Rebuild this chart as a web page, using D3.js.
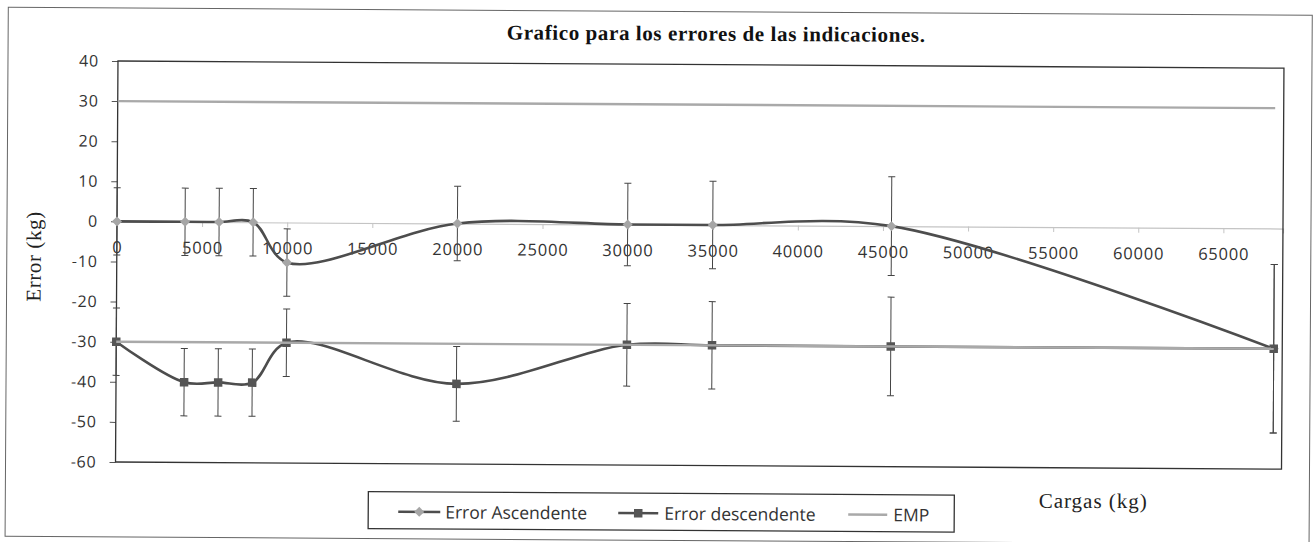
<!DOCTYPE html>
<html><head><meta charset="utf-8">
<script src="https://cdn.jsdelivr.net/npm/d3@7"></script>
<style>body{margin:0;background:#fff} svg{display:block}</style>
</head><body><svg id="c" width="1315" height="542"></svg>
<script>
// ---- data ----
const cargas = [0, 4000, 6000, 8000, 10000, 20000, 30000, 35000, 45500, 68000];
const errorAscendente = [0, 0, 0, 0, -10, 0, 0, 0, 0, -30];
const errorDescendente = [-30, -40, -40, -40, -30, -40, -30, -30, -30, -30];
const incertidumbre = [8.4, 8.4, 8.4, 8.4, 8.4, 9.3, 10.3, 10.9, 12.3, 21];
const empX = [0, 68000];
const empSup = [30, 30];
const empInf = [-30, -30];
const xTicks = [0, 5000, 10000, 15000, 20000, 25000, 30000, 35000, 40000, 45000, 50000, 55000, 60000, 65000];
const yTicks = [40, 30, 20, 10, 0, -10, -20, -30, -40, -50, -60];
const seriesNames = ["Error Ascendente", "Error descendente", "EMP"];
const titulo = "Grafico para los errores de las indicaciones.";

// ---- drawing ----
const svg = d3.select('#c');
const g = svg.append('g').attr('transform', 'rotate(0.35,117,221)');
const sans = "'Open Sans', sans-serif";
const serif = "'Liberation Serif', 'Times New Roman', serif";

g.append('rect').attr('x', 7).attr('y', 8).attr('width', 1304).attr('height', 529)
  .attr('fill', 'none').attr('stroke', '#666').attr('stroke-width', 1);

const x = d3.scaleLinear().domain([0, 68500]).range([117, 1283]);
const y = d3.scaleLinear().domain([-60, 40]).range([462, 61]);

// title
g.append('text').attr('x', 715).attr('y', 37).attr('text-anchor', 'middle')
  .attr('font-family', serif).attr('font-weight', 'bold').attr('font-size', 21)
  .attr('letter-spacing', 0.6).attr('fill', '#111').text(titulo);

// x axis at 0
const xAxis = d3.axisBottom(x).tickValues(xTicks).tickSize(5).tickPadding(15).tickFormat(d => String(d));
const gx = g.append('g').attr('transform', `translate(0,${y(0)})`).call(xAxis);
gx.select('.domain').attr('stroke', '#c4c4c4').attr('stroke-width', 1.2);
gx.selectAll('.tick line').attr('stroke', '#c4c4c4');
gx.selectAll('.tick text').attr('font-family', sans).attr('font-size', 16.5).attr('letter-spacing', 0.8).attr('fill', '#333');

// y axis
const yAxis = d3.axisLeft(y).tickValues(yTicks).tickSize(6).tickPadding(13).tickFormat(d => String(d));
const gy = g.append('g').attr('transform', `translate(${x(0)},0)`).call(yAxis);
gy.select('.domain').remove();
gy.selectAll('.tick line').attr('stroke', '#555');
gy.selectAll('.tick text').attr('font-family', sans).attr('font-size', 16).attr('letter-spacing', 0.8).attr('fill', '#333');

// plot border
g.append('rect').attr('x', x(0)).attr('y', y(40)).attr('width', x(68500) - x(0)).attr('height', y(-60) - y(40))
  .attr('fill', 'none').attr('stroke', '#333').attr('stroke-width', 1.3);

// axis titles
g.append('text').attr('transform', `translate(41,257) rotate(-90)`).attr('text-anchor', 'middle')
  .attr('font-family', serif).attr('font-size', 21).attr('letter-spacing', 0.6).attr('fill', '#222').text('Error (kg)');
g.append('text').attr('x', 1095).attr('y', 502).attr('text-anchor', 'middle')
  .attr('font-family', serif).attr('font-size', 21).attr('letter-spacing', 1).attr('fill', '#222').text('Cargas (kg)');

const line = d3.line().x((d, i) => x(cargas[i])).y(d => y(d)).curve(d3.curveCatmullRom.alpha(0.5));
const lineColor = '#4d4d4d';

function errorBars(vals) {
  const eb = g.append('g').attr('stroke', '#444').attr('stroke-width', 1);
  vals.forEach((v, i) => {
    const cx = x(cargas[i]), e = incertidumbre[i];
    eb.append('line').attr('x1', cx).attr('x2', cx).attr('y1', y(v + e)).attr('y2', y(v - e));
    eb.append('line').attr('x1', cx - 3.5).attr('x2', cx + 3.5).attr('y1', y(v + e)).attr('y2', y(v + e));
    eb.append('line').attr('x1', cx - 3.5).attr('x2', cx + 3.5).attr('y1', y(v - e)).attr('y2', y(v - e));
  });
}

g.append('path').attr('d', line(errorAscendente)).attr('fill', 'none').attr('stroke', lineColor).attr('stroke-width', 2.6);
errorBars(errorAscendente);
g.append('g').selectAll('path').data(errorAscendente).join('path')
  .attr('d', d3.symbol().type(d3.symbolSquare).size(50))
  .attr('transform', (d, i) => `translate(${x(cargas[i])},${y(d)}) rotate(45)`)
  .attr('fill', '#a6a6a6');

g.append('path').attr('d', line(errorDescendente)).attr('fill', 'none').attr('stroke', lineColor).attr('stroke-width', 2.6);
errorBars(errorDescendente);
g.append('g').selectAll('path').data(errorDescendente).join('path')
  .attr('transform', (d, i) => `translate(${x(cargas[i])},${y(d)})`)
  .attr('d', d3.symbol().type(d3.symbolSquare).size(72))
  .attr('fill', '#555');

// EMP lines (drawn last, on top)
const empLine = d3.line().x((d, i) => x(empX[i])).y(d => y(d));
[empSup, empInf].forEach(arr => {
  g.append('path').attr('d', empLine(arr)).attr('fill', 'none').attr('stroke', '#a9a9a9').attr('stroke-width', 2.4);
});

// legend
const lg = g.append('g');
lg.append('rect').attr('x', 370).attr('y', 490).attr('width', 586).attr('height', 37)
  .attr('fill', '#fff').attr('stroke', '#333').attr('stroke-width', 1.3);
const items = [
  {x0: 400, x1: 442, tx: 447, color: lineColor, marker: 'diamond'},
  {x0: 620, x1: 660, tx: 666, color: lineColor, marker: 'square'},
  {x0: 850, x1: 889, tx: 895, color: '#a9a9a9', marker: null}
];
items.forEach((it, i) => {
  const ly = 510;
  lg.append('line').attr('x1', it.x0).attr('x2', it.x1).attr('y1', ly).attr('y2', ly)
    .attr('stroke', it.color).attr('stroke-width', it.marker ? 2.6 : 2.4);
  const mx = (it.x0 + it.x1) / 2;
  if (it.marker === 'diamond') {
    lg.append('path').attr('d', d3.symbol().type(d3.symbolSquare).size(50)())
      .attr('transform', `translate(${mx},${ly}) rotate(45)`).attr('fill', '#a6a6a6');
  } else if (it.marker === 'square') {
    lg.append('path').attr('d', d3.symbol().type(d3.symbolSquare).size(72)())
      .attr('transform', `translate(${mx},${ly})`).attr('fill', '#555');
  }
  lg.append('text').attr('x', it.tx).attr('y', ly + 6.5).attr('font-family', sans).attr('font-size', 17.5)
    .attr('fill', '#333').text(seriesNames[i]);
});
</script></body></html>
